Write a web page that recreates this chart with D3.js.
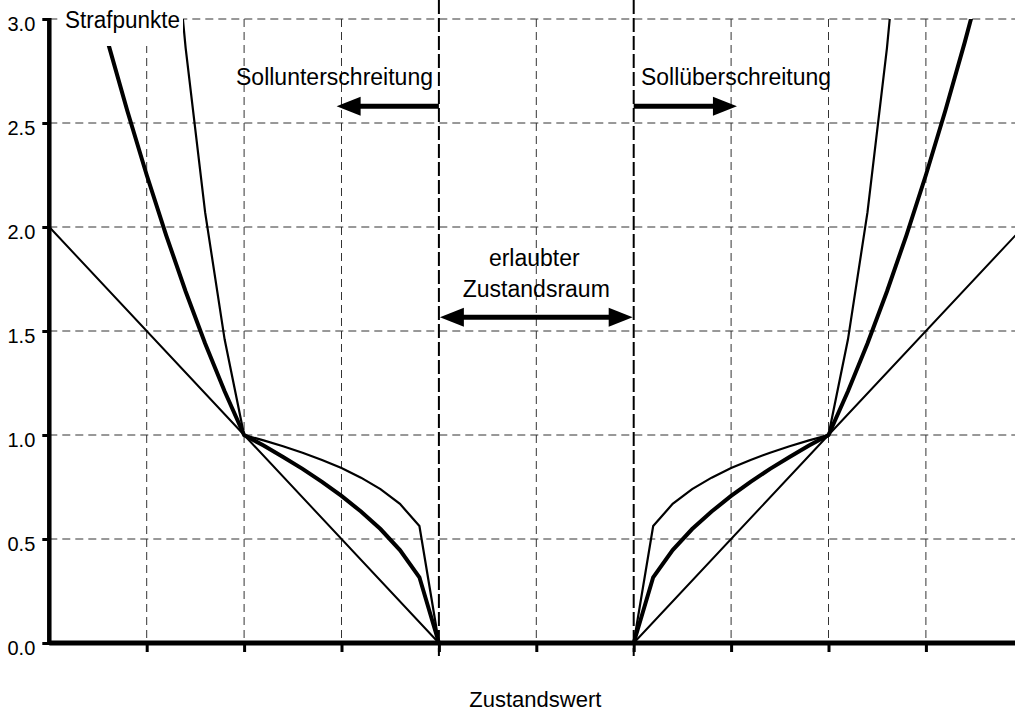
<!DOCTYPE html>
<html><head><meta charset="utf-8">
<script src="https://cdn.jsdelivr.net/npm/d3@7"></script>
<style>
html,body{margin:0;padding:0;background:#fff;}
text{font-family:"Liberation Sans",Arial,sans-serif;fill:#000;}
</style></head>
<body>
<svg id="chart" width="1015" height="717"></svg>
<script>
// ---- data ----
const yTicks = [0, 0.5, 1.0, 1.5, 2.0, 2.5, 3.0];
const yTickLabels = ["0.0", "0.5", "1.0", "1.5", "2.0", "2.5", "3.0"];
const xTicks = [1, 2, 3, 4, 5, 6, 7, 8, 9, 10];

const linLeftX = [0, 2, 4];
const linLeftY = [2.0, 1.0, 0];
const linRightX = [6, 8, 10];
const linRightY = [0, 1.0, 2.0];

const boldLeftX = [0.4,0.6,0.8,1.0,1.2,1.4,1.6,1.8,2.0,2.2,2.4,2.6,2.8,3.0,3.2,3.4,3.6,3.8,4.0];
const boldLeftY = [3.24,2.89,2.56,2.25,1.96,1.69,1.44,1.21,1.0,0.949,0.894,0.837,0.775,0.707,0.632,0.548,0.447,0.316,0];
const boldRightX = [6.0,6.2,6.4,6.6,6.8,7.0,7.2,7.4,7.6,7.8,8.0,8.2,8.4,8.6,8.8,9.0,9.2,9.4,9.6];
const boldRightY = [0,0.316,0.447,0.548,0.632,0.707,0.775,0.837,0.894,0.949,1.0,1.21,1.44,1.69,1.96,2.25,2.56,2.89,3.24];

const thinLeftX = [1.2,1.4,1.6,1.8,2.0,2.2,2.4,2.6,2.8,3.0,3.2,3.4,3.6,3.8,4.0];
const thinLeftY = [3.84,2.86,2.07,1.46,1.0,0.974,0.946,0.915,0.880,0.841,0.795,0.740,0.669,0.562,0];
const thinRightX = [6.0,6.2,6.4,6.6,6.8,7.0,7.2,7.4,7.6,7.8,8.0,8.2,8.4,8.6,8.8];
const thinRightY = [0,0.562,0.669,0.740,0.795,0.841,0.880,0.915,0.946,0.974,1.0,1.46,2.07,2.86,3.84];

const zoneBounds = [4, 6];
const arrowY = 2.58;
const leftArrowTip = 2.95;
const rightArrowTip = 7.06;
const zoneArrowY = 1.566;

// ---- layout ----
const svg = d3.select("#chart");
const x = d3.scaleLinear().domain([0, 10]).range([49.3, 1023.3]);
const y = d3.scaleLinear().domain([0, 3]).range([643, 19]);
const W = 1015;

svg.append("defs").append("clipPath").attr("id", "clip")
  .append("rect").attr("x", 0).attr("y", y(3)).attr("width", W).attr("height", y(0) - y(3) + 10);

// horizontal gridlines
svg.append("g").selectAll("line").data(yTicks.filter(d => d > 0)).join("line")
  .attr("x1", x(0)).attr("x2", W).attr("y1", d => y(d)).attr("y2", d => y(d))
  .attr("stroke", "#333").attr("stroke-width", 1).attr("stroke-dasharray", "8,5");

// vertical gridlines (grey)
svg.append("g").selectAll("line").data(xTicks.filter(d => !zoneBounds.includes(d))).join("line")
  .attr("x1", d => x(d)).attr("x2", d => x(d)).attr("y1", y(3)).attr("y2", y(0))
  .attr("stroke", "#333").attr("stroke-width", 1).attr("stroke-dasharray", "8,5");

// curves
const line = d3.line().x(d => x(d[0])).y(d => y(d[1]));
const curves = svg.append("g").attr("clip-path", "url(#clip)").attr("fill", "none").attr("stroke", "#000").attr("stroke-linejoin", "miter");
function draw(xs, ys, w) {
  curves.append("path").attr("d", line(xs.map((v, i) => [v, ys[i]]))).attr("stroke-width", w);
}
draw(linLeftX, linLeftY, 2);
draw(linRightX, linRightY, 2);
draw(thinLeftX, thinLeftY, 2.2);
draw(thinRightX, thinRightY, 2.2);
draw(boldLeftX, boldLeftY, 4);
draw(boldRightX, boldRightY, 4);

// zone boundaries (black dashed)
svg.append("g").selectAll("line").data(zoneBounds).join("line")
  .attr("x1", d => x(d)).attr("x2", d => x(d)).attr("y1", 0).attr("y2", 656)
  .attr("stroke", "#000").attr("stroke-width", 2).attr("stroke-dasharray", "14,4");

// white box behind "Strafpunkte"
svg.append("rect").attr("x", 58).attr("y", 0).attr("width", 125).attr("height", 46).attr("fill", "#fff");
svg.append("text").attr("x", 65).attr("y", 28).attr("font-size", 23)
  .attr("textLength", 115).attr("lengthAdjust", "spacingAndGlyphs").text("Strafpunkte");

// axes
const xAxis = d3.axisBottom(x).tickValues(xTicks).tickSize(9).tickFormat("");
const gx = svg.append("g").attr("transform", `translate(0,${y(0)})`).call(xAxis);
gx.select(".domain").remove();
gx.selectAll(".tick line").attr("stroke", "#000").attr("stroke-width", 3);
svg.append("line").attr("x1", x(0)).attr("x2", W).attr("y1", y(0)).attr("y2", y(0))
  .attr("stroke", "#000").attr("stroke-width", 5);

const yAxis = d3.axisLeft(y).tickValues(yTicks).tickSize(7).tickPadding(7)
  .tickFormat((d, i) => yTickLabels[i]);
const gy = svg.append("g").attr("transform", `translate(${x(0)},0)`).call(yAxis);
gy.select(".domain").remove();
gy.selectAll(".tick line").attr("stroke", "#000").attr("stroke-width", 3);
gy.selectAll(".tick text").attr("font-size", 20).attr("font-family", "Liberation Sans, Arial, sans-serif")
  .attr("dy", "0.55em").attr("fill", "#000");
svg.append("line").attr("x1", x(0)).attr("x2", x(0)).attr("y1", y(3) - 1).attr("y2", y(0) + 2)
  .attr("stroke", "#000").attr("stroke-width", 4.5);

// arrows
function arrowHead(tipX, tipY, dir) {
  const L = 24, H = 9.5;
  svg.append("path")
    .attr("d", `M${tipX},${tipY} L${tipX - dir * L},${tipY - H} L${tipX - dir * L},${tipY + H} Z`)
    .attr("fill", "#000");
}
function arrowLine(x1, x2, yy) {
  svg.append("line").attr("x1", x1).attr("x2", x2).attr("y1", yy).attr("y2", yy)
    .attr("stroke", "#000").attr("stroke-width", 5);
}
arrowLine(x(zoneBounds[0]), x(leftArrowTip) + 20, y(arrowY));
arrowHead(x(leftArrowTip), y(arrowY), -1);
arrowLine(x(zoneBounds[1]), x(rightArrowTip) - 20, y(arrowY));
arrowHead(x(rightArrowTip), y(arrowY), 1);
arrowLine(x(zoneBounds[0]) + 20, x(zoneBounds[1]) - 20, y(zoneArrowY));
arrowHead(x(zoneBounds[0]) + 1, y(zoneArrowY), -1);
arrowHead(x(zoneBounds[1]) - 1, y(zoneArrowY), 1);

// labels
svg.append("text").attr("x", 433).attr("y", 85).attr("text-anchor", "end").attr("font-size", 23)
  .attr("textLength", 197).attr("lengthAdjust", "spacingAndGlyphs").text("Sollunterschreitung");
svg.append("text").attr("x", 641).attr("y", 85).attr("font-size", 23)
  .attr("textLength", 190).attr("lengthAdjust", "spacingAndGlyphs").text("Sollüberschreitung");
const mid = (x(zoneBounds[0]) + x(zoneBounds[1])) / 2;
svg.append("text").attr("x", mid - 2).attr("y", 266).attr("text-anchor", "middle").attr("font-size", 23).text("erlaubter");
svg.append("text").attr("x", mid).attr("y", 297).attr("text-anchor", "middle").attr("font-size", 23).text("Zustandsraum");
svg.append("text").attr("x", mid - 1).attr("y", 707).attr("text-anchor", "middle").attr("font-size", 22).text("Zustandswert");
</script>
</body></html>
